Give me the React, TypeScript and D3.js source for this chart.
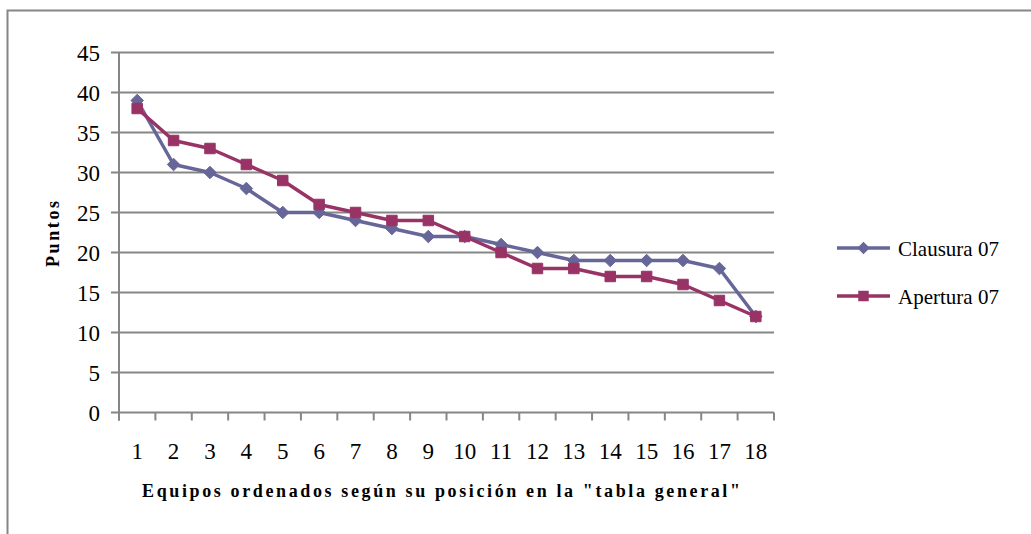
import { useEffect, useRef } from "react";
import * as d3 from "d3";

const categories = ["1", "2", "3", "4", "5", "6", "7", "8", "9", "10", "11", "12", "13", "14", "15", "16", "17", "18"];
const clausura = [39, 31, 30, 28, 25, 25, 24, 23, 22, 22, 21, 20, 19, 19, 19, 19, 18, 12];
const apertura = [38, 34, 33, 31, 29, 26, 25, 24, 24, 22, 20, 18, 18, 17, 17, 16, 14, 12];
const yTicks = [0, 5, 10, 15, 20, 25, 30, 35, 40, 45];

const series = [
  { name: "Clausura 07", values: clausura, color: "#666699", symbol: d3.symbolDiamond2, size: 100 },
  { name: "Apertura 07", values: apertura, color: "#993366", symbol: d3.symbolSquare2, size: 140 },
];

const width = 1031;
const height = 534;

const App = () => {
  const svgRef = useRef<SVGSVGElement | null>(null);

  useEffect(() => {
    if (!svgRef.current) return;
    const svg = d3.select(svgRef.current);
    svg.selectAll("*").remove();

    const margin = { top: 52.5, left: 119, right: 774, bottom: 412.5 };
    const grey = "#868686";
    const font = '"Liberation Serif", "Times New Roman", serif';

    // outer frame (runs off the right and bottom edges)
    svg
      .append("rect")
      .attr("x", 7.5)
      .attr("y", 10.5)
      .attr("width", 1100)
      .attr("height", 600)
      .attr("fill", "none")
      .attr("stroke", grey)
      .attr("stroke-width", 2);

    const x = d3.scaleBand().domain(categories).range([margin.left, margin.right]);
    const y = d3.scaleLinear().domain([0, 45]).range([margin.bottom, margin.top]);

    // grid lines + y ticks
    svg
      .append("g")
      .selectAll("line")
      .data(yTicks)
      .join("line")
      .attr("x1", margin.left - 8)
      .attr("x2", margin.right)
      .attr("y1", (d) => y(d))
      .attr("y2", (d) => y(d))
      .attr("stroke", grey)
      .attr("stroke-width", 2);

    svg
      .append("g")
      .selectAll("text")
      .data(yTicks)
      .join("text")
      .attr("x", 100)
      .attr("y", (d) => y(d) + 8)
      .attr("text-anchor", "end")
      .attr("font-family", font)
      .attr("font-size", 23)
      .text((d) => d);

    // y axis line
    svg
      .append("line")
      .attr("x1", margin.left)
      .attr("x2", margin.left)
      .attr("y1", margin.top)
      .attr("y2", margin.bottom + 8)
      .attr("stroke", grey)
      .attr("stroke-width", 2);

    // x ticks at band edges
    const edges = categories.map((c) => x(c) as number).concat([margin.right]);
    svg
      .append("g")
      .selectAll("line")
      .data(edges)
      .join("line")
      .attr("x1", (d) => d)
      .attr("x2", (d) => d)
      .attr("y1", margin.bottom)
      .attr("y2", margin.bottom + 8)
      .attr("stroke", grey)
      .attr("stroke-width", 2);

    svg
      .append("g")
      .selectAll("text")
      .data(categories)
      .join("text")
      .attr("x", (d) => (x(d) as number) + x.bandwidth() / 2)
      .attr("y", 459)
      .attr("text-anchor", "middle")
      .attr("font-family", font)
      .attr("font-size", 23)
      .text((d) => d);

    // axis titles
    svg
      .append("text")
      .attr("x", 142)
      .attr("y", 497)
      .attr("font-family", font)
      .attr("font-size", 18)
      .attr("font-weight", "bold")
      .attr("textLength", 598)
      .attr("lengthAdjust", "spacing")
      .text('Equipos ordenados según su posición en la "tabla general"');

    svg
      .append("text")
      .attr("transform", "translate(59,267) rotate(-90)")
      .attr("font-family", font)
      .attr("font-size", 18)
      .attr("font-weight", "bold")
      .attr("textLength", 66)
      .attr("lengthAdjust", "spacing")
      .text("Puntos");

    const cx = (i: number) => (x(categories[i]) as number) + x.bandwidth() / 2;
    const line = d3
      .line<number>()
      .x((_, i) => cx(i))
      .y((d) => y(d));

    series.forEach((s) => {
      svg
        .append("path")
        .datum(s.values)
        .attr("fill", "none")
        .attr("stroke", s.color)
        .attr("stroke-width", 3.5)
        .attr("stroke-linejoin", "round")
        .attr("d", line);
    });

    series.forEach((s) => {
      const sym = d3.symbol().type(s.symbol).size(s.size);
      svg
        .append("g")
        .selectAll("path")
        .data(s.values)
        .join("path")
        .attr("transform", (d, i) => `translate(${cx(i)},${y(d)})`)
        .attr("d", sym)
        .attr("fill", s.color)
        .attr("stroke", s.color)
        .attr("stroke-width", 1);
    });

    // legend
    const legendY = [248, 296];
    series.forEach((s, i) => {
      const g = svg.append("g").attr("transform", `translate(0,${legendY[i]})`);
      g.append("line")
        .attr("x1", 837)
        .attr("x2", 890)
        .attr("stroke", s.color)
        .attr("stroke-width", 3.5);
      g.append("path")
        .attr("transform", "translate(863.5,0)")
        .attr("d", d3.symbol().type(s.symbol).size(s.size)())
        .attr("fill", s.color);
      g.append("text")
        .attr("x", 898)
        .attr("y", 8)
        .attr("font-family", font)
        .attr("font-size", 21)
        .text(s.name);
    });
  }, []);

  return (
    <svg
      ref={svgRef}
      width={width}
      height={height}
      style={{ position: "absolute", left: 0, top: 0, background: "#fff" }}
    />
  );
};

export default App;
